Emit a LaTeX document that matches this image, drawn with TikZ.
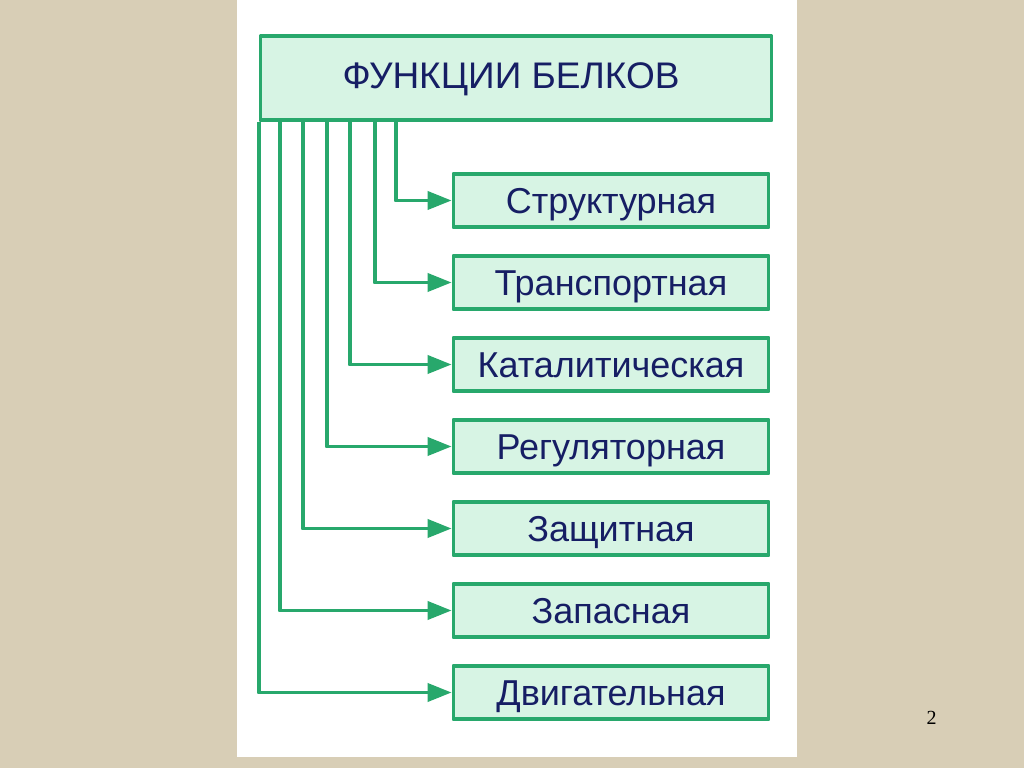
\documentclass[tikz,border=0pt]{standalone}
\usepackage{fontspec}
\setmainfont{Liberation Sans}
\newfontfamily\pagenumfont{Liberation Serif}
\usetikzlibrary{positioning,calc,arrows.meta}
\definecolor{boxgreen}{RGB}{40,168,108}
\definecolor{boxfill}{RGB}{215,244,228}
\definecolor{textnavy}{RGB}{22,30,100}
\definecolor{paper}{RGB}{216,206,182}
\tikzset{
  funcbox/.style={draw=boxgreen, line width=3.8pt, fill=boxfill, text=textnavy,
    minimum width=315pt, minimum height=53.5pt, inner sep=0pt,
    text height=25.8pt, text depth=0pt,
    font=\fontsize{36}{40}\selectfont},
  titlebox/.style={funcbox, minimum width=511pt, minimum height=84pt,
    text height=26.5pt, font=\fontsize{37}{40}\selectfont},
  branch/.style={draw=boxgreen, line width=3.8pt, -{Triangle[length=24pt,width=18pt]}}
}

\begin{document}
\begin{tikzpicture}[x=1pt, y=1pt, line join=round]
\useasboundingbox (0,0) rectangle (1024,768);
\fill[paper] (0,0) rectangle (1024,768);
\fill[white] (237,11) rectangle (797,768);

\node[titlebox] (title) at (516,689.7) {\raisebox{3pt}{ФУНКЦИИ БЕЛКОВ}\hspace*{10pt}};
\foreach \txt [count=\i] in {Структурная,Транспортная,Каталитическая,Регуляторная,Защитная,Запасная,Двигательная}
  \node[funcbox] (f\i) at (611,{567.5-82*(\i-1)}) {\txt};

% branches from the title box
\foreach \i/\dx in {1/137,2/116,3/91,4/68,5/44,6/21,7/0}
  \draw[branch] ($(title.south west)+(\dx,0)$) |- (f\i.west);

\node[font=\pagenumfont\fontsize{20}{22}\selectfont] (pagenum) at (931.5,50.5) {2};
\end{tikzpicture}
\end{document}
